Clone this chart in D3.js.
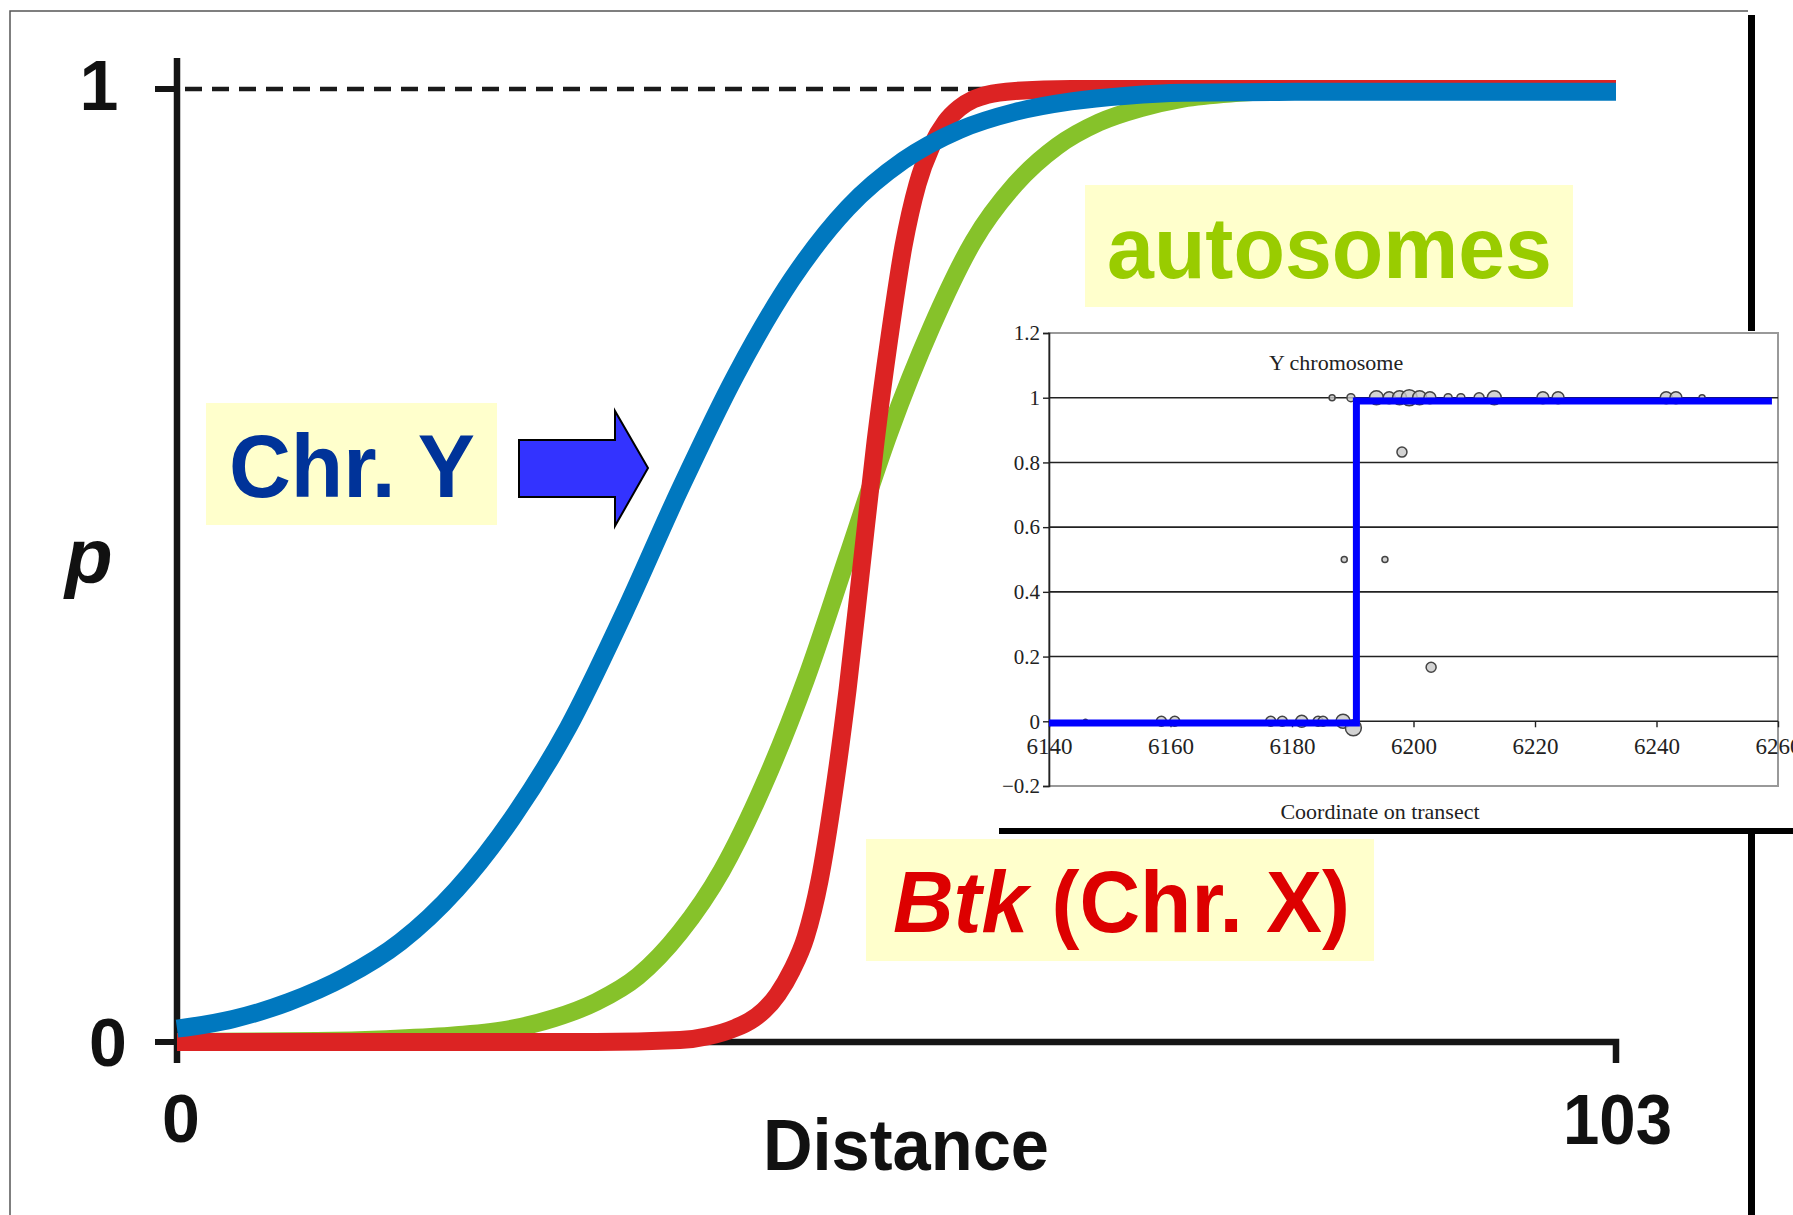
<!DOCTYPE html>
<html lang="en">
<head>
<meta charset="utf-8">
<title>Cline widths</title>
<style>
  body { margin: 0; background: #fff; }
  svg { display: block; }
</style>
</head>
<body>
<svg width="1793" height="1215"></svg>
<script src="https://cdn.jsdelivr.net/npm/d3@7/dist/d3.min.js"></script>
<script>

// main chart: frequency p along the transect distance (0..103)
const blueX = [0, 4, 8, 12, 16, 20, 24, 28, 32, 36, 40, 44, 48, 52, 56, 60, 64, 68, 72, 80, 103]
const blueP = [0.014, 0.024, 0.042, 0.068, 0.105, 0.16, 0.235, 0.33, 0.45, 0.58, 0.7, 0.8, 0.875, 0.925, 0.957, 0.976, 0.987, 0.993, 0.996, 0.997, 0.997]

const greenX = [0, 10, 15, 20, 24, 27, 30, 33, 36, 39, 42, 45, 48, 51, 54, 57, 60, 63, 66, 69, 72, 76, 80, 103]
const greenP = [0, 0.001, 0.003, 0.007, 0.014, 0.025, 0.042, 0.069, 0.115, 0.18, 0.27, 0.38, 0.51, 0.64, 0.75, 0.84, 0.9, 0.94, 0.965, 0.98, 0.99, 0.996, 0.999, 1]

const redX = [0, 30, 36, 38, 40, 41, 42, 43, 44, 45, 46, 47, 48, 49, 50, 51, 52, 53, 54, 55, 56, 57, 58, 60, 64, 103]
const redP = [0, 0, 0.002, 0.006, 0.015, 0.022, 0.033, 0.05, 0.075, 0.11, 0.17, 0.26, 0.37, 0.5, 0.63, 0.74, 0.835, 0.9, 0.94, 0.965, 0.98, 0.989, 0.994, 0.998, 1, 1]

const mainXTicks = ["0", "103"]
const mainYTicks = ["0", "1"]

// inset: Y chromosome, frequency vs coordinate on transect
const insetXTicks = [6140, 6160, 6180, 6200, 6220, 6240, 6260]
const insetYTicks = [-0.2, 0, 0.2, 0.4, 0.6, 0.8, 1, 1.2]
const dotX = [6186.6, 6189.7, 6193.9, 6196, 6197.7, 6199.3, 6201, 6202.7, 6205.7, 6207.8, 6210.8, 6213.3, 6221.3, 6223.8, 6241.6, 6243.2, 6247.5,
              6198.1, 6188.6, 6195.3, 6202.9,
              6146, 6158.5, 6160.7, 6176.5, 6178.4, 6181.6, 6184.3, 6185.1, 6188.4, 6190.1]
const dotY = [1, 1, 1, 1, 1, 1, 1, 1, 1, 1, 1, 1, 1, 1, 1, 1, 1,
              0.832, 0.5, 0.5, 0.167,
              0, 0, 0, 0, 0, 0, 0, 0, 0, -0.02]
const dotR = [3, 4, 7, 6, 7, 8, 7, 6, 4, 4, 5, 7, 6, 6, 6, 6, 3,
              5, 3, 3, 5,
              2, 5, 5, 5, 5, 6, 5, 5, 7, 8]
const stepX = [6140, 6190.6, 6259]
const stepP = [-0.005, 0.99, 0.99]

const svg = d3.select("svg")
const sans = "'Liberation Sans', Arial, Helvetica, sans-serif",
      serif = "'Liberation Serif', 'Times New Roman', serif"

const x = d3.scaleLinear().domain([0, 103]).range([177, 1616]),
      y = d3.scaleLinear().domain([0, 1]).range([1042, 89])

// slide frame
svg.append("path").attr("d", "M10,1215V11H1748").attr("fill", "none").attr("stroke", "#555").attr("stroke-width", 1.5)
svg.append("rect").attr("x", 1748).attr("y", 15).attr("width", 7).attr("height", 1200).attr("fill", "#000")

// dashed p = 1 reference
svg.append("line")
    .attr("x1", x(0)).attr("x2", x(103)).attr("y1", y(1)).attr("y2", y(1))
    .attr("stroke", "#1a1a1a").attr("stroke-width", 4.5).attr("stroke-dasharray", "17,10").attr("stroke-dashoffset", -8)

// axes
const axisColor = "#151515"
svg.append("line").attr("x1", x(0)).attr("x2", x(0)).attr("y1", y(1) - 31).attr("y2", y(0) + 21)
    .attr("stroke", axisColor).attr("stroke-width", 6.5)
svg.append("path")
    .attr("d", `M${x(0)},${y(0)}H${x(103)}V${y(0) + 21}`)
    .attr("fill", "none").attr("stroke", axisColor).attr("stroke-width", 6.5)
svg.selectAll(".ytick").data([0, 1]).enter().append("line")
    .attr("x1", x(0) - 22).attr("x2", x(0)).attr("y1", d => y(d)).attr("y2", d => y(d))
    .attr("stroke", axisColor).attr("stroke-width", 6)

// curves
const line = (xs, ps) => d3.line().x(d => x(d[0])).y(d => y(d[1])).curve(d3.curveMonotoneX)(xs.map((v, i) => [v, ps[i]]))
const curves = [
  {xs: greenX, ps: greenP, color: "#86c22a"},
  {xs: redX, ps: redP, color: "#dc2323"},
  {xs: blueX, ps: blueP, color: "#0078bf"}
]
svg.selectAll(".cline").data(curves).enter().append("path")
    .attr("d", d => line(d.xs, d.ps))
    .attr("fill", "none").attr("stroke", d => d.color).attr("stroke-width", 18)

// tick labels and axis titles
svg.append("text").text(mainYTicks[1]).attr("x", 99).attr("y", 110)
    .attr("text-anchor", "middle").style("font", `bold 70px ${sans}`).attr("fill", "#111")
svg.append("text").text(mainYTicks[0]).attr("x", 108).attr("y", 1066)
    .attr("text-anchor", "middle").style("font", `bold 68px ${sans}`).attr("fill", "#111")
svg.append("text").text(mainXTicks[0]).attr("x", x(0) + 4).attr("y", 1142)
    .attr("text-anchor", "middle").style("font", `bold 68px ${sans}`).attr("fill", "#111")
svg.append("text").text(mainXTicks[1]).attr("x", 1563).attr("y", 1144)
    .attr("textLength", 109).attr("lengthAdjust", "spacingAndGlyphs")
    .style("font", `bold 70px ${sans}`).attr("fill", "#111")
svg.append("text").text("Distance").attr("x", 763).attr("y", 1170)
    .attr("textLength", 286).attr("lengthAdjust", "spacingAndGlyphs")
    .style("font", `bold 72px ${sans}`).attr("fill", "#111")
svg.append("text").text("p").attr("x", 65).attr("y", 583)
    .style("font", `italic bold 78px ${sans}`).attr("fill", "#111")

// labels in yellow boxes
const boxes = [
  {x: 1085, y: 185, w: 488, h: 122},
  {x: 206, y: 403, w: 291, h: 122},
  {x: 866, y: 839, w: 508, h: 122}
]
svg.selectAll(".box").data(boxes).enter().append("rect")
    .attr("x", d => d.x).attr("y", d => d.y).attr("width", d => d.w).attr("height", d => d.h)
    .attr("fill", "#ffffcc")

svg.append("text").text("autosomes").attr("x", 1107).attr("y", 278)
    .attr("textLength", 445).attr("lengthAdjust", "spacingAndGlyphs")
    .style("font", `bold 88px ${sans}`).attr("fill", "#99cc00")
svg.append("text").text("Chr. Y").attr("x", 229).attr("y", 497)
    .attr("textLength", 246).attr("lengthAdjust", "spacingAndGlyphs")
    .style("font", `bold 89px ${sans}`).attr("fill", "#003399")
const btk = svg.append("text").attr("x", 893).attr("y", 932)
    .attr("textLength", 457).attr("lengthAdjust", "spacingAndGlyphs")
    .style("font", `bold 88px ${sans}`).attr("fill", "#dd0000")
btk.append("tspan").text("Btk").style("font-style", "italic")
btk.append("tspan").text(" (Chr. X)")

// arrow pointing at the Chr. Y cline
svg.append("path")
    .attr("d", "M519,440H615V411L648,468L615,526V497H519Z")
    .attr("fill", "#3333ff").attr("stroke", "#000").attr("stroke-width", 2)

// ---- inset ----
const ix = d3.scaleLinear().domain([6140, 6260]).range([1049, 1778]),
      iy = d3.scaleLinear().domain([-0.2, 1.2]).range([786, 333])

const inset = svg.append("g")
inset.append("rect").attr("x", 998).attr("y", 331).attr("width", 795).attr("height", 498).attr("fill", "#fff")
inset.append("rect").attr("x", 999).attr("y", 828).attr("width", 794).attr("height", 6).attr("fill", "#000")
inset.append("rect").attr("x", ix(6140)).attr("y", iy(1.2)).attr("width", ix(6260) - ix(6140)).attr("height", iy(-0.2) - iy(1.2))
    .attr("fill", "none").attr("stroke", "#999").attr("stroke-width", 2)

inset.selectAll(".grid").data(insetYTicks.filter(v => v > -0.1 && v < 1.1)).enter().append("line")
    .attr("x1", ix(6140)).attr("x2", ix(6260)).attr("y1", d => iy(d)).attr("y2", d => iy(d))
    .attr("stroke", "#222").attr("stroke-width", 1.6)

const yAx = inset.append("g").attr("transform", `translate(${ix(6140)},0)`)
    .call(d3.axisLeft(iy).tickValues(insetYTicks).tickSize(6).tickPadding(3)
      .tickFormat(d => d < 0 ? "\u22120.2" : d3.format("")(+d.toFixed(1))))
yAx.select(".domain").attr("stroke", "#222").attr("stroke-width", 1.6)
yAx.selectAll(".tick line").attr("stroke", "#222").attr("stroke-width", 1.4)
yAx.selectAll("text").style("font", `21px ${serif}`).attr("fill", "#222")

const xAx = inset.append("g").attr("transform", `translate(0,${iy(0)})`)
    .call(d3.axisBottom(ix).tickValues(insetXTicks).tickSize(6).tickPadding(10).tickFormat(d3.format("d")))
xAx.select(".domain").remove()
xAx.selectAll(".tick line").attr("stroke", "#222").attr("stroke-width", 1.4)
xAx.selectAll("text").style("font", `23px ${serif}`).attr("fill", "#222")

inset.append("text").text("Y chromosome").attr("x", 1269).attr("y", 370)
    .style("font", `22px ${serif}`).attr("fill", "#222")
inset.append("text").text("Coordinate on transect").attr("x", 1380).attr("y", 819)
    .attr("text-anchor", "middle").style("font", `22px ${serif}`).attr("fill", "#222")

inset.selectAll(".dot").data(dotX.map((v, i) => ({x: v, y: dotY[i], r: dotR[i]}))).enter().append("circle")
    .attr("cx", d => ix(d.x)).attr("cy", d => iy(d.y)).attr("r", d => d.r)
    .attr("fill", "#c8c8c8").attr("fill-opacity", 0.8).attr("stroke", "#444").attr("stroke-width", 1.5)

inset.append("path")
    .attr("d", d3.line().x(d => ix(d[0])).y(d => iy(d[1])).curve(d3.curveStepAfter)(stepX.map((v, i) => [v, stepP[i]])))
    .attr("fill", "none").attr("stroke", "#0000ff").attr("stroke-width", 7)

</script>
</body>
</html>
